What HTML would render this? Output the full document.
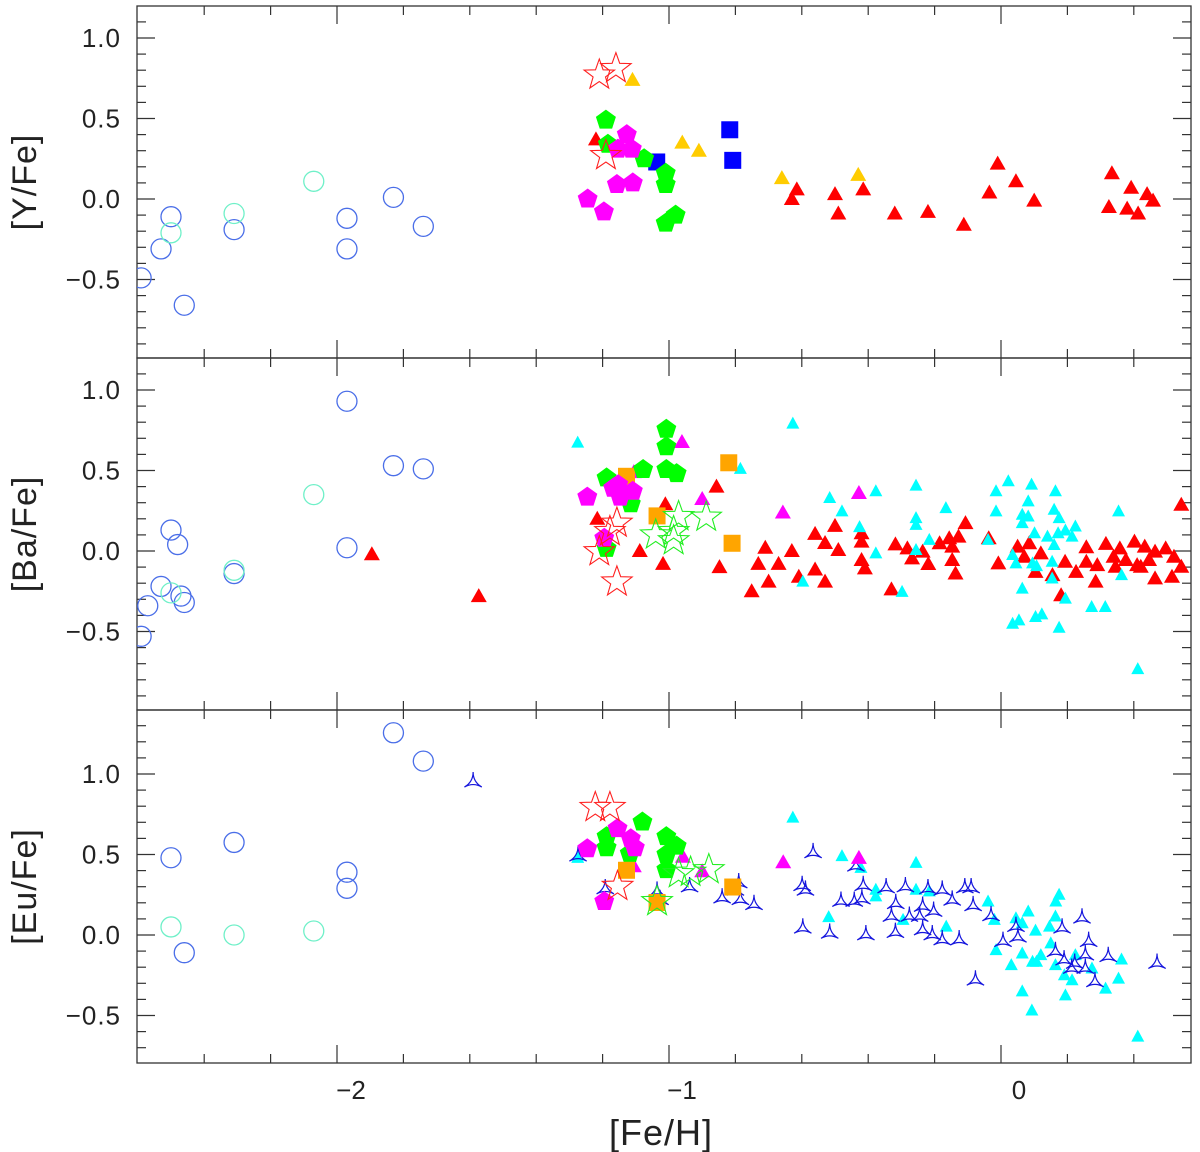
<!DOCTYPE html>
<html><head><meta charset="utf-8"><style>
html,body{margin:0;padding:0;background:#fff;}
svg{display:block;font-family:"Liberation Sans",sans-serif;}
</style></head><body>
<svg id="chart" width="1200" height="1152" viewBox="0 0 1200 1152" xmlns="http://www.w3.org/2000/svg"></svg>
<script>
// ---------- data ----------
const xTicks = [-2, -1, 0];
const xTickLabels = ["\u22122", "\u22121", "0"];
const yTicks = [1.0, 0.5, 0.0, -0.5];
const yTickLabels = ["1.0", "0.5", "0.0", "\u22120.5"];
const panelTitles = ["[Y/Fe]", "[Ba/Fe]", "[Eu/Fe]"];

// Panel 1 : [Y/Fe]
const yBlueCircX = [-2.59,-2.53,-2.50,-2.46,-2.31,-1.97,-1.97,-1.83,-1.74];
const yBlueCircY = [-0.49,-0.31,-0.11,-0.66,-0.19,-0.12,-0.31,0.01,-0.17];
const yAquaCircX = [-2.50,-2.31,-2.07];
const yAquaCircY = [-0.21,-0.09,0.11];
const yRedStarX = [-1.21,-1.16,-1.19];
const yRedStarY = [0.77,0.81,0.27];
const yGoldTriX = [-1.11,-0.96,-0.91,-0.66,-0.43];
const yGoldTriY = [0.74,0.35,0.30,0.13,0.15];
const yRedTriX = [-1.22,-0.01,0.045,-0.035,0.10,-0.615,-0.63,-0.50,-0.49,-0.415,-0.32,-0.22,-0.112,0.334,0.325,0.392,0.38,0.413,0.44,0.458];
const yRedTriY = [0.37,0.22,0.11,0.04,-0.01,0.06,0.0,0.03,-0.09,0.06,-0.09,-0.08,-0.16,0.16,-0.05,0.07,-0.06,-0.09,0.03,-0.01];
const yBlueSqX = [-0.817,-0.808,-1.037];
const yBlueSqY = [0.43,0.24,0.23];
const yGreenPentX = [-1.19,-1.184,-1.075,-1.01,-1.01,-0.98,-1.01];
const yGreenPentY = [0.49,0.34,0.25,0.16,0.09,-0.10,-0.15];
const yMagPentX = [-1.245,-1.196,-1.127,-1.154,-1.112,-1.157,-1.109];
const yMagPentY = [0.0,-0.08,0.40,0.31,0.31,0.09,0.10];

// Panel 2 : [Ba/Fe]
const baBlueCircX = [-2.59,-2.57,-2.50,-2.48,-2.53,-2.47,-2.46,-2.31,-1.97,-1.97,-1.83,-1.74];
const baBlueCircY = [-0.53,-0.34,0.13,0.04,-0.22,-0.28,-0.32,-0.14,0.93,0.02,0.53,0.51];
const baAquaCircX = [-2.50,-2.31,-2.07];
const baAquaCircY = [-0.26,-0.12,0.35];
const baRedTriX = [-1.895,-1.573,-1.216,-1.088,-1.018,-1.011,-0.857,-0.848,-0.751,-0.71,-0.731,-0.70,-0.67,-0.63,-0.609,-0.56,-0.53,-0.56,-0.53,-0.50,-0.49,-0.42,-0.42,-0.42,-0.41,-0.33,-0.318,-0.282,-0.268,-0.236,-0.219,-0.185,-0.156,-0.147,-0.128,-0.147,-0.137,-0.107,-0.037,-0.008,0.05,0.07,0.085,0.104,0.12,0.155,0.181,0.193,0.226,0.257,0.29,0.285,0.316,0.339,0.358,0.402,0.41,0.433,0.464,0.464,0.496,0.515,0.521,0.543,0.543,0.376,0.421,0.446,0.345,0.257];
const baRedTriY = [-0.02,-0.28,0.20,0.00,-0.08,0.29,0.40,-0.10,-0.25,0.02,-0.08,-0.19,-0.08,0.00,-0.16,0.106,0.05,-0.115,-0.19,0.156,0.006,0.11,0.058,-0.056,-0.108,-0.238,0.041,0.016,-0.046,-0.004,-0.081,0.048,0.079,0.027,0.089,-0.056,-0.14,0.173,0.079,-0.077,0.027,-0.036,0.048,-0.13,-0.015,-0.15,-0.275,-0.067,-0.13,0.023,-0.088,-0.19,0.044,-0.036,0.016,0.058,-0.088,0.027,-0.004,-0.17,0.016,-0.16,-0.036,-0.098,0.287,-0.056,-0.098,-0.056,-0.098,-0.067];
const baCyanTriX = [-1.275,-0.627,-0.785,-0.516,-0.479,-0.426,-0.377,-0.377,-0.597,-0.298,-0.256,-0.256,-0.256,-0.256,-0.216,-0.166,-0.039,-0.015,-0.015,0.022,0.035,0.045,0.064,0.064,0.064,0.082,0.082,0.092,0.101,0.095,0.107,0.035,0.054,0.104,0.123,0.175,0.14,0.16,0.16,0.164,0.175,0.172,0.194,0.214,0.224,0.154,0.154,0.194,0.273,0.314,0.354,0.363,0.412];
const baCyanTriY = [0.673,0.791,0.51,0.329,0.246,0.148,0.371,-0.015,-0.19,-0.254,0.406,0.204,0.162,0.006,0.069,0.266,0.069,0.371,0.246,0.433,-0.025,-0.077,0.173,0.225,-0.234,0.308,0.214,0.412,0.11,-0.077,-0.094,-0.452,-0.431,-0.41,-0.394,-0.477,0.089,0.037,0.256,0.371,0.204,0.11,0.127,0.089,0.152,-0.067,-0.171,-0.296,-0.348,-0.348,0.246,-0.15,-0.734];
const baMagTriX = [-0.961,-1.106,-0.90,-0.657,-0.428];
const baMagTriY = [0.677,0.49,0.323,0.239,0.36];
const baOrangeSqX = [-0.82,-1.128,-1.036,-0.81];
const baOrangeSqY = [0.548,0.464,0.218,0.048];
const baGreenPentX = [-1.008,-1.008,-1.078,-1.008,-0.977,-1.188,-1.115,-1.188];
const baGreenPentY = [0.756,0.648,0.506,0.506,0.481,0.454,0.293,0.016];
const baMagPentX = [-1.246,-1.153,-1.109,-1.147,-1.168,-1.195];
const baMagPentY = [0.335,0.412,0.371,0.335,0.39,0.079];
const baRedStarX = [-1.157,-1.178,-1.21,-1.157];
const baRedStarY = [0.173,0.121,-0.004,-0.192];
const baGreenStarX = [-0.971,-0.888,-1.04,-0.986,-0.986];
const baGreenStarY = [0.214,0.21,0.1,0.121,0.064];

// Panel 3 : [Eu/Fe]
const euBlueCircX = [-2.50,-2.46,-2.31,-1.97,-1.97,-1.83,-1.74];
const euBlueCircY = [0.48,-0.11,0.575,0.39,0.29,1.256,1.08];
const euAquaCircX = [-2.50,-2.31,-2.07];
const euAquaCircY = [0.05,0.0,0.025];
const euTripodX = [-1.59,-1.274,-0.566,-1.192,-1.036,-1.027,-0.938,-0.84,-0.79,-0.80,-0.785,-0.744,-0.599,-0.589,-0.597,-0.516,-0.437,-0.415,-0.419,-0.442,-0.482,-0.407,-0.346,-0.317,-0.33,-0.318,-0.288,-0.276,-0.245,-0.236,-0.22,-0.203,-0.236,-0.207,-0.177,-0.147,-0.177,-0.126,-0.109,-0.09,-0.084,-0.03,0.006,-0.077,0.045,0.051,0.184,0.164,0.19,0.244,0.264,0.254,0.222,0.254,0.213,0.283,0.323,0.47];
const euTripodY = [0.95,0.49,0.51,0.286,0.271,0.219,0.298,0.229,0.323,0.277,0.219,0.188,0.306,0.277,0.042,0.01,0.427,0.306,0.223,0.208,0.208,0.0,0.292,0.194,0.115,0.015,0.298,0.115,0.115,0.177,0.286,0.146,0.031,0.0,0.277,0.215,-0.031,-0.031,0.292,0.292,0.181,0.119,-0.041,-0.281,0.052,-0.014,0.042,-0.104,-0.156,0.104,-0.041,-0.125,-0.177,-0.208,-0.208,-0.291,-0.135,-0.177];
const euCyanTriX = [-1.275,-0.627,-0.479,-0.422,-0.256,-0.256,-0.377,-0.377,-0.519,-0.295,-0.165,-0.216,-0.039,-0.02,-0.015,0.031,0.064,0.082,0.045,0.064,0.104,0.095,0.107,0.12,0.15,0.146,0.164,0.175,0.165,0.164,0.191,0.214,0.224,0.274,0.315,0.354,0.363,0.064,0.093,0.194,0.412];
const euCyanTriY = [0.479,0.729,0.49,0.417,0.448,0.281,0.281,0.24,0.111,0.094,0.052,0.271,0.208,0.094,-0.094,-0.187,-0.115,0.146,0.104,0.073,0.027,-0.166,-0.166,-0.125,-0.052,0.052,0.115,0.25,0.208,-0.187,-0.25,-0.281,-0.125,-0.208,-0.333,-0.271,-0.152,-0.35,-0.469,-0.375,-0.631];
const euRedStarX = [-1.222,-1.178,-1.155];
const euRedStarY = [0.792,0.792,0.302];
const euGreenPentX = [-1.08,-1.188,-1.188,-1.118,-1.008,-0.977,-1.008,-1.008];
const euGreenPentY = [0.702,0.611,0.542,0.506,0.611,0.552,0.5,0.406];
const euMagPentX = [-1.246,-1.155,-1.115,-1.103,-1.195];
const euMagPentY = [0.536,0.661,0.598,0.542,0.208];
const euMagTriX = [-1.106,-0.958,-0.90,-0.656,-0.428];
const euMagTriY = [0.427,0.486,0.396,0.452,0.479];
const euOrangeSqX = [-1.128,-1.036,-0.808];
const euOrangeSqY = [0.402,0.202,0.298];
const euGreenStarX = [-1.036,-0.971,-0.88,-0.935];
const euGreenStarY = [0.208,0.381,0.406,0.39];

// ---------- layout ----------
const NS = "http://www.w3.org/2000/svg";
const svg = document.getElementById("chart");
const L = 137, R = 1191;
const X0 = 1001, XS = 332;
const YS = 161;
const panels = [
  {top: 6, bot: 358, zero: 199},
  {top: 358, bot: 710, zero: 551},
  {top: 710, bot: 1063, zero: 935}
];
function xScale(v){ return X0 + XS*v; }
function yScale(p, v){ return panels[p].zero - YS*v; }

function mk(tag, attrs, parent){
  const e = document.createElementNS(NS, tag);
  for (const k in attrs) e.setAttribute(k, attrs[k]);
  (parent||svg).appendChild(e);
  return e;
}

// axes
panels.forEach((P, pi) => {
  const g = mk("g", {});
  
  
  const fr = mk("rect", {x:L, y:P.top, width:R-L, height:P.bot-P.top, fill:"none", stroke:"#333", "stroke-width":1.3}, g);
  
  
  for (let k = -13; k <= 2; k++) {
    const v = k*0.2;
    const x = xScale(v);
    if (x < L+2 || x > R-2) continue;
    const major = Math.abs(v - Math.round(v)) < 1e-6;
    const len = major ? 18 : 9;
    mk("line", {x1:x, x2:x, y1:P.bot, y2:P.bot-len, stroke:"#333", "stroke-width":1.2}, g);
    mk("line", {x1:x, x2:x, y1:P.top, y2:P.top+len, stroke:"#333", "stroke-width":1.2}, g);
  }
  for (let k = -10; k <= 14; k++) {
    const v = k*0.1;
    const y = yScale(pi, v);
    if (y < P.top+2 || y > P.bot-2) continue;
    const major = (k % 5) === 0;
    const len = major ? 18 : 9;
    mk("line", {x1:L, x2:L+len, y1:y, y2:y, stroke:"#333", "stroke-width":1.2}, g);
    mk("line", {x1:R, x2:R-len, y1:y, y2:y, stroke:"#333", "stroke-width":1.2}, g);
  }
  yTicks.forEach((v, i) => {
    const t = mk("text", {x:121, y:yScale(pi, v)+9, "text-anchor":"end", "font-size":26, "letter-spacing":1, fill:"#222"}, g);
    t.textContent = yTickLabels[i];
    
    
  });
  const cy = (P.top + P.bot)/2;
  const tt = mk("text", {x:0, y:0, transform:"translate(36," + cy + ") rotate(-90)", "text-anchor":"middle", "font-size":34, "letter-spacing":1, fill:"#222"}, g);
  tt.textContent = panelTitles[pi];
  
  
});
const xLabelShift = [14, 13, 18];
xTicks.forEach((v, i) => {
  const t = mk("text", {x:xScale(v)+xLabelShift[i], y:1099, "text-anchor":"middle", "font-size":26, fill:"#222"});
  t.textContent = xTickLabels[i];
  
  
});
const xt = mk("text", {x:661, y:1145, "text-anchor":"middle", "font-size":36, "letter-spacing":1, fill:"#222"});
xt.textContent = "[Fe/H]";



const defs = mk("defs", {});
panels.forEach((P, pi) => {
  const cp = mk("clipPath", {id:"clip"+pi}, defs);
  mk("rect", {x:L, y:P.top, width:R-L, height:P.bot-P.top}, cp);
});

// ---------- marker shapes ----------
function polyPts(cx, cy, n, r, rot){
  const pts = [];
  for (let i = 0; i < n; i++) {
    const a = rot + i*2*Math.PI/n;
    pts.push((cx + r*Math.cos(a)).toFixed(1) + "," + (cy + r*Math.sin(a)).toFixed(1));
  }
  return pts.join(" ");
}
function starPts(cx, cy, ro, ri){
  const pts = [];
  for (let i = 0; i < 10; i++) {
    const r = i % 2 ? ri : ro;
    const a = -Math.PI/2 + i*Math.PI/5;
    pts.push((cx + r*Math.cos(a)).toFixed(1) + "," + (cy + r*Math.sin(a)).toFixed(1));
  }
  return pts.join(" ");
}
function drawMarker(g, type, cx, cy){
  switch (type) {
    case "circ-blue": return mk("circle", {cx, cy, r:10, fill:"none", stroke:"#4a6ee8", "stroke-width":1.3}, g);
    case "circ-aqua": return mk("circle", {cx, cy, r:10, fill:"none", stroke:"#6ff0c8", "stroke-width":1.3}, g);
    case "tri-red": return mk("polygon", {points: (cx-8)+","+(cy+6)+" "+(cx+8)+","+(cy+6)+" "+cx+","+(cy-8), fill:"#ff0000"}, g);
    case "tri-gold": return mk("polygon", {points: (cx-8)+","+(cy+6)+" "+(cx+8)+","+(cy+6)+" "+cx+","+(cy-8), fill:"#ffcc00"}, g);
    case "tri-mag": return mk("polygon", {points: (cx-8)+","+(cy+6)+" "+(cx+8)+","+(cy+6)+" "+cx+","+(cy-8), fill:"#ff00ff"}, g);
    case "tri-cyan": return mk("polygon", {points: (cx-6.5)+","+(cy+5)+" "+(cx+6.5)+","+(cy+5)+" "+cx+","+(cy-7), fill:"#00ffff"}, g);
    case "sq-blue": return mk("rect", {x:cx-8.5, y:cy-8.5, width:17, height:17, fill:"#0000ff"}, g);
    case "sq-orange": return mk("rect", {x:cx-8.5, y:cy-8.5, width:17, height:17, fill:"#ffa500"}, g);
    case "pent-green": return mk("polygon", {points: polyPts(cx, cy, 5, 10.5, -Math.PI/2), fill:"#00ff00"}, g);
    case "pent-mag": return mk("polygon", {points: polyPts(cx, cy, 5, 10.5, -Math.PI/2), fill:"#ff00ff"}, g);
    case "star-red": return mk("polygon", {points: starPts(cx, cy, 16, 6.5), fill:"none", stroke:"#ff2020", "stroke-width":1.1}, g);
    case "star-green": return mk("polygon", {points: starPts(cx, cy, 16, 6.5), fill:"none", stroke:"#22ee22", "stroke-width":1.1}, g);
    case "tripod": {
      const r = 10;
      const p = [[cx, cy-r], [cx+r*0.87, cy+r*0.5], [cx-r*0.87, cy+r*0.5]];
      const d = "M"+p[0][0]+","+p[0][1]+" Q"+cx+","+cy+" "+p[1][0]+","+p[1][1]+" Q"+cx+","+cy+" "+p[2][0]+","+p[2][1]+" Q"+cx+","+cy+" "+p[0][0]+","+p[0][1]+"Z";
      return mk("path", {d, fill:"none", stroke:"#1515dd", "stroke-width":1.2}, g);
    }
  }
}
function series(pi, name, type, xs, ys){
  const g = mk("g", {"clip-path":"url(#clip"+pi+")"});
  
  
  for (let i = 0; i < xs.length; i++) {
    const m = drawMarker(g, type, xScale(xs[i]), yScale(pi, ys[i]));
    
    
  }
}

series(0, "y-blue-circles", "circ-blue", yBlueCircX, yBlueCircY);
series(0, "y-aqua-circles", "circ-aqua", yAquaCircX, yAquaCircY);
series(0, "y-red-triangles", "tri-red", yRedTriX, yRedTriY);
series(0, "y-gold-triangles", "tri-gold", yGoldTriX, yGoldTriY);
series(0, "y-blue-squares", "sq-blue", yBlueSqX, yBlueSqY);
series(0, "y-green-pentagons", "pent-green", yGreenPentX, yGreenPentY);
series(0, "y-magenta-pentagons", "pent-mag", yMagPentX, yMagPentY);
series(0, "y-red-stars", "star-red", yRedStarX, yRedStarY);
series(1, "ba-blue-circles", "circ-blue", baBlueCircX, baBlueCircY);
series(1, "ba-aqua-circles", "circ-aqua", baAquaCircX, baAquaCircY);
series(1, "ba-red-triangles", "tri-red", baRedTriX, baRedTriY);
series(1, "ba-cyan-triangles", "tri-cyan", baCyanTriX, baCyanTriY);
series(1, "ba-magenta-triangles", "tri-mag", baMagTriX, baMagTriY);
series(1, "ba-orange-squares", "sq-orange", baOrangeSqX, baOrangeSqY);
series(1, "ba-green-pentagons", "pent-green", baGreenPentX, baGreenPentY);
series(1, "ba-magenta-pentagons", "pent-mag", baMagPentX, baMagPentY);
series(1, "ba-red-stars", "star-red", baRedStarX, baRedStarY);
series(1, "ba-green-stars", "star-green", baGreenStarX, baGreenStarY);
series(2, "eu-blue-circles", "circ-blue", euBlueCircX, euBlueCircY);
series(2, "eu-aqua-circles", "circ-aqua", euAquaCircX, euAquaCircY);
series(2, "eu-cyan-triangles", "tri-cyan", euCyanTriX, euCyanTriY);
series(2, "eu-tripods", "tripod", euTripodX, euTripodY);
series(2, "eu-magenta-triangles", "tri-mag", euMagTriX, euMagTriY);
series(2, "eu-green-pentagons", "pent-green", euGreenPentX, euGreenPentY);
series(2, "eu-magenta-pentagons", "pent-mag", euMagPentX, euMagPentY);
series(2, "eu-orange-squares", "sq-orange", euOrangeSqX, euOrangeSqY);
series(2, "eu-red-stars", "star-red", euRedStarX, euRedStarY);
series(2, "eu-green-stars", "star-green", euGreenStarX, euGreenStarY);
</script>
</body></html>
